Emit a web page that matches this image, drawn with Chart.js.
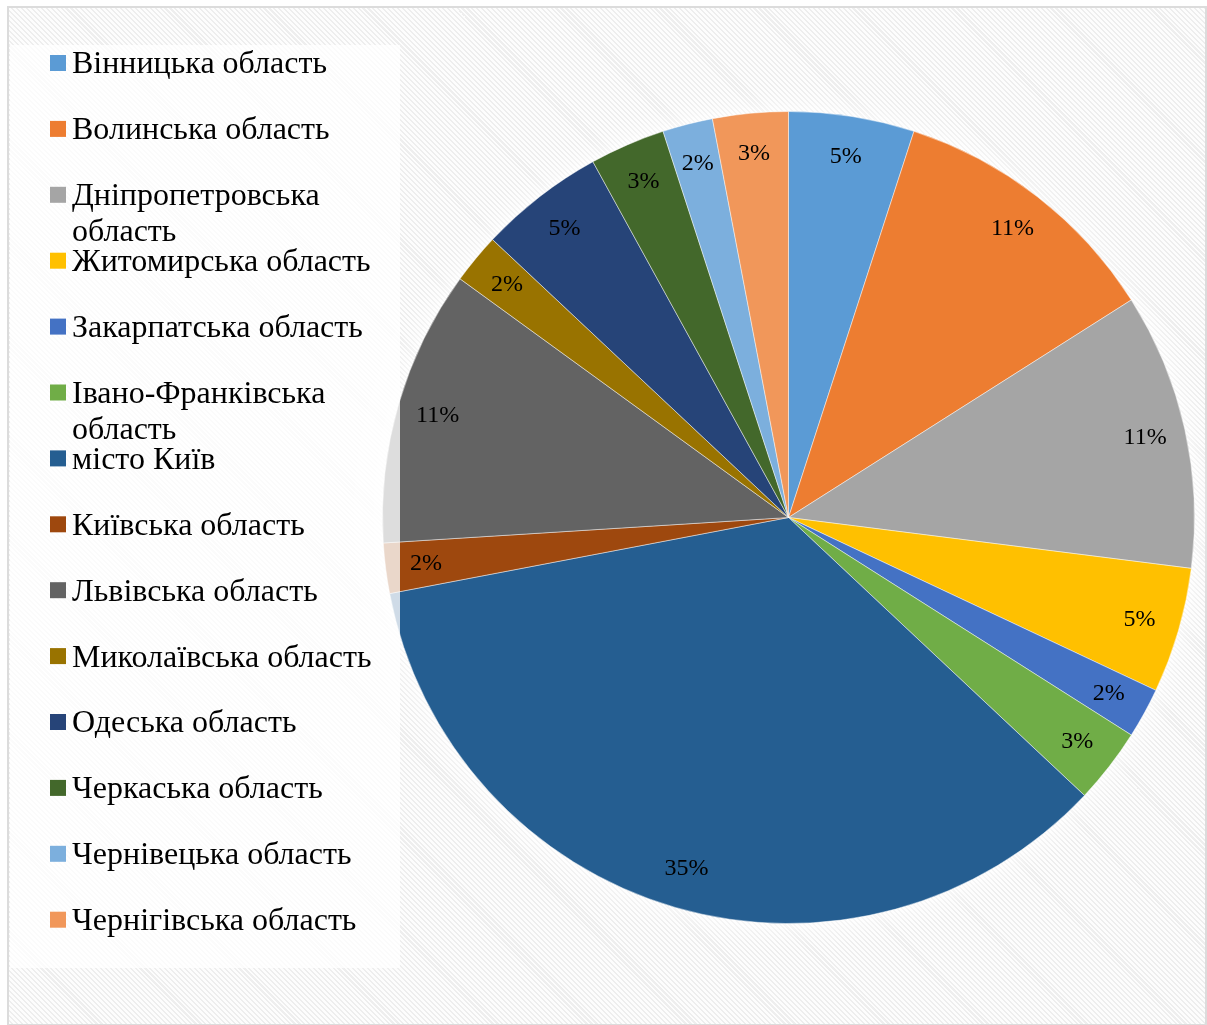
<!DOCTYPE html>
<html>
<head>
<meta charset="utf-8">
<script src="https://cdn.jsdelivr.net/npm/chart.js@4.4.0/dist/chart.umd.min.js"></script>
<style>
  html, body { margin: 0; padding: 0; background: #fff; }
  #frame {
    position: absolute; left: 7px; top: 6px; width: 1196px; height: 1016px;
    border: 2px solid #dcdcdc;
    background: repeating-linear-gradient(45deg, #fdfdfd 0px, #fdfdfd 2px, #eeeeee 2px, #eeeeee 3.5px);
  }
  #chart { position: absolute; left: 0; top: 0; }
</style>
</head>
<body>
<div id="frame"></div>
<canvas id="chart" width="1207" height="1025"></canvas>
<script>
const regions = [
    'Вінницька область',
    'Волинська область',
    'Дніпропетровська область',
    'Житомирська область',
    'Закарпатська область',
    'Івано-Франківська область',
    'місто Київ',
    'Київська область',
    'Львівська область',
    'Миколаївська область',
    'Одеська область',
    'Черкаська область',
    'Чернівецька область',
    'Чернігівська область'
];
const shares = [5, 11, 11, 5, 2, 3, 35, 2, 11, 2, 5, 3, 2, 3];
const colors = [
    '#5B9BD5', '#ED7D31', '#A5A5A5', '#FFC000', '#4472C4', '#70AD47', '#255E91',
    '#9E480E', '#636363', '#997300', '#264478', '#43682B', '#7CAFDD', '#F1975A'
];

const total = shares.reduce((a, b) => a + b, 0);

// soft white glow behind the pie
const glowPlugin = {
    id: 'glow',
    beforeDatasetsDraw(chart) {
        const arc = chart.getDatasetMeta(0).data[0];
        if (!arc) return;
        const ctx = chart.ctx;
        ctx.save();
        ctx.shadowColor = 'rgba(255,255,255,1)';
        ctx.shadowBlur = 30;
        ctx.fillStyle = '#ffffff';
        ctx.beginPath();
        ctx.arc(arc.x, arc.y, arc.outerRadius, 0, Math.PI * 2);
        ctx.fill();
        ctx.restore();
    }
};

function wrapText(ctx, text, maxWidth) {
    let words = text.split(' ');
    let lines = [];
    let line = '';
    for (let w of words) {
        let test = line ? line + ' ' + w : w;
        if (line && ctx.measureText(test).width > maxWidth) {
            lines.push(line);
            line = w;
        } else {
            line = test;
        }
    }
    lines.push(line);
    return lines;
}

// legend panel on the left (semi-transparent over the pie) and the percent labels
const overlayPlugin = {
    id: 'overlay',
    afterDatasetsDraw(chart) {
        const ctx = chart.ctx;
        ctx.save();

        ctx.fillStyle = 'rgba(255,255,255,0.78)';
        ctx.fillRect(10, 45, 390, 923);

        ctx.font = '32px "Liberation Serif", "Times New Roman", serif';
        ctx.textBaseline = 'middle';
        ctx.textAlign = 'left';
        for (let i = 0; i < regions.length; i++) {
            let y = 63 + i * 65.9;
            ctx.fillStyle = colors[i];
            ctx.fillRect(50, y - 8, 16, 16);
            ctx.fillStyle = '#000';
            let lines = wrapText(ctx, regions[i], 320);
            lines.forEach((ln, k) => ctx.fillText(ln, 72, y + 2 + k * 36));
        }

        ctx.font = '24px "Liberation Serif", "Times New Roman", serif';
        ctx.textAlign = 'center';
        ctx.fillStyle = '#000';
        chart.getDatasetMeta(0).data.forEach((arc, i) => {
            const p = arc.getProps(['x', 'y', 'startAngle', 'endAngle', 'outerRadius']);
            const mid = (p.startAngle + p.endAngle) / 2;
            const r = p.outerRadius * 0.9;
            const pct = Math.round(shares[i] / total * 100) + '%';
            ctx.fillText(pct, p.x + Math.cos(mid) * r, p.y + Math.sin(mid) * r);
        });
        ctx.restore();
    }
};

new Chart(document.getElementById('chart'), {
    type: 'pie',
    data: {
        labels: regions,
        datasets: [{
            data: shares,
            backgroundColor: colors,
            borderColor: 'rgba(255,255,255,0.45)',
            borderWidth: 1
        }]
    },
    options: {
        responsive: false,
        devicePixelRatio: 1,
        animation: false,
        layout: {
            padding: { left: 382, right: 12, top: 111, bottom: 101 }
        },
        plugins: {
            legend: { display: false },
            tooltip: { enabled: false }
        }
    },
    plugins: [glowPlugin, overlayPlugin]
});
</script>
</body>
</html>
